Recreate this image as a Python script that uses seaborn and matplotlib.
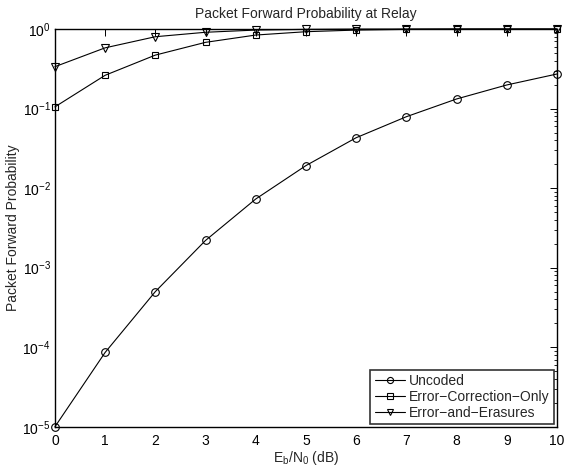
import pandas as pd
import seaborn as sns
import matplotlib.pyplot as plt
import numpy as np

# Eb/N0 points (dB) and forward probabilities
ebn0 = [0, 1, 2, 3, 4, 5, 6, 7, 8, 9, 10]
uncoded = [1.0e-5, 8.6e-5, 5.0e-4, 2.2e-3, 7.3e-3, 1.92e-2, 4.3e-2, 7.9e-2, 0.132, 0.198, 0.272]
error_correction_only = [0.105, 0.262, 0.47, 0.68, 0.84, 0.925, 0.97, 0.99, 0.998, 1.0, 1.0]
error_and_erasures = [0.336, 0.58, 0.80, 0.91, 0.97, 0.99, 0.998, 1.0, 1.0, 1.0, 1.0]

series_names = ['Uncoded', 'Error\u2212Correction\u2212Only', 'Error\u2212and\u2212Erasures']
series_markers = ['o', 's', 'v']

data = pd.DataFrame({
    'Eb/N0': ebn0 * 3,
    'Probability': uncoded + error_correction_only + error_and_erasures,
    'Scheme': np.repeat(series_names, len(ebn0)),
})

sns.set_style('white')
plt.rcParams['font.family'] = ['Liberation Sans', 'DejaVu Sans']
plt.rcParams['mathtext.fontset'] = 'custom'
plt.rcParams['mathtext.rm'] = 'Liberation Sans'
plt.rcParams['mathtext.it'] = 'Liberation Sans:italic'
plt.rcParams['mathtext.default'] = 'regular'

fig = plt.figure(figsize=(5.66, 4.68), dpi=100)
ax = fig.add_axes([0.097, 0.088, 0.887, 0.85])

marker_sizes = {'o': 5.5, 's': 4.8, 'v': 6.2}
for name, marker in zip(series_names, series_markers):
    sub = data[data['Scheme'] == name]
    sns.lineplot(x='Eb/N0', y='Probability', data=sub, ax=ax, color='k',
                 linewidth=0.8, marker=marker, markersize=marker_sizes[marker],
                 markerfacecolor='none', markeredgecolor='k', markeredgewidth=0.8,
                 label=name, clip_on=False, zorder=3)

ax.set_yscale('log')
ax.set_xlim(0, 10)
ax.set_ylim(1e-5, 1)
ax.set_xticks(range(0, 11))
ax.set_yticks([1e-5, 1e-4, 1e-3, 1e-2, 1e-1, 1e0])

ax.minorticks_on()
ax.tick_params(which='both', direction='in', top=True, right=True,
               labelsize=10, colors='k', pad=3)
ax.tick_params(axis='x', pad=5)
ax.tick_params(which='major', length=5, width=0.7)
ax.tick_params(which='minor', length=2.5, width=0.6)
ax.tick_params(axis='x', which='minor', bottom=False, top=False)

for spine in ax.spines.values():
    spine.set_color('k')
    spine.set_linewidth(1.0)

ax.set_title('Packet Forward Probability at Relay', fontsize=10, pad=8)
ax.set_xlabel('E$_\\mathrm{b}$/N$_\\mathrm{0}$ (dB)', fontsize=10, labelpad=1)
ax.set_ylabel('Packet Forward Probability', fontsize=10, labelpad=2)

leg = ax.legend(loc='lower right', fontsize=10, frameon=True, fancybox=False,
                borderaxespad=0.2, handlelength=2.2, handletextpad=0.3,
                borderpad=0.3, labelspacing=0.15, markerscale=0.8)
leg.get_frame().set_edgecolor('k')
leg.get_frame().set_linewidth(1.2)

fig.savefig('out.png', dpi=100, facecolor='white')
